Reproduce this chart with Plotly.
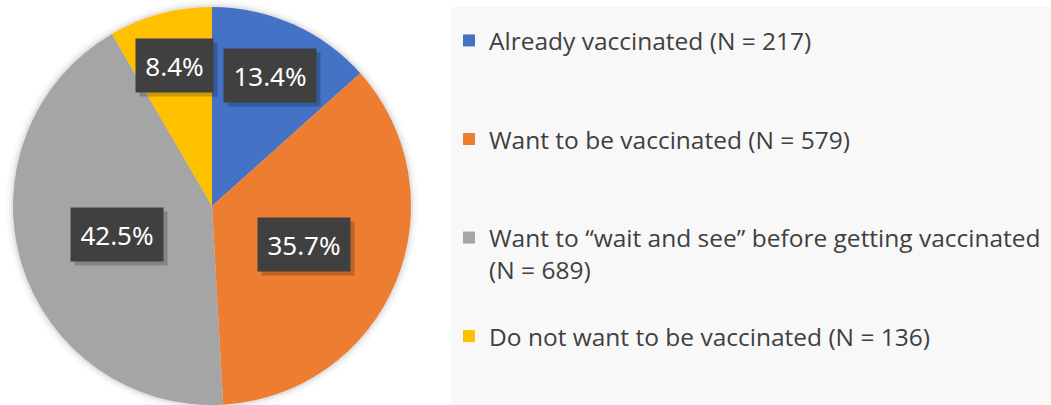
import math
import plotly.graph_objects as go

# ---- data ----
categories = [
    "Already vaccinated",
    "Want to be vaccinated",
    "Want to “wait and see” before getting vaccinated",
    "Do not want to be vaccinated",
]
counts = [217, 579, 689, 136]
colors = ["#4472C4", "#ED7D31", "#A5A5A5", "#FFC000"]
legend_breaks = [" ", " ", "<br>", " "]   # where "(N = …)" goes
label_radius = [0.72, 0.50, 0.50, 0.73]   # label distance as fraction of radius

# ---- layout constants ----
W, H = 1051, 405
PIE_CX, PIE_CY, PIE_R = 212, 206, 199     # pixel geometry of pie (top-down)
LEG_FS = 24.5

legend_names = []
for c, n, br in zip(categories, counts, legend_breaks):
    body = f"{c}{br}(N = {n})"
    extra_lines = 1 if br == "<br>" else 2
    legend_names.append(body + "<br> " * extra_lines)

total = sum(counts)

fig = go.Figure(
    go.Pie(
        labels=legend_names,
        values=counts,
        sort=False,
        direction="clockwise",
        rotation=0,
        textinfo="none",
        marker=dict(colors=colors, line=dict(width=0)),
        domain=dict(
            x=[(PIE_CX - PIE_R) / W, (PIE_CX + PIE_R) / W],
            y=[1 - (PIE_CY + PIE_R) / H, 1 - (PIE_CY - PIE_R) / H],
        ),
        showlegend=True,
    )
)

annotations = []
cum = 0.0
for i, n in enumerate(counts):
    frac = n / total
    mid = cum + frac / 2
    cum += frac
    theta = 2 * math.pi * mid
    px = PIE_CX + label_radius[i] * PIE_R * math.sin(theta)
    py = PIE_CY - label_radius[i] * PIE_R * math.cos(theta)
    txt = f"{frac * 100:.1f}%"
    box_w = 15 * len(txt) - 3
    common = dict(
        x=px / W, y=1 - py / H, xref="paper", yref="paper",
        xanchor="center", yanchor="middle",
        showarrow=False, borderpad=10, width=box_w, height=33,
    )
    # soft shadow
    annotations.append(dict(common, text=" ",
                            font=dict(family="Noto Sans", size=26, color="rgba(0,0,0,0)"),
                            bgcolor="rgba(0,0,0,0.20)", xshift=4, yshift=-4))
    annotations.append(dict(common, text=txt,
                            font=dict(family="Noto Sans", size=26, color="white"),
                            bgcolor="#404040"))

shapes = [
    dict(type="rect", xref="paper", yref="paper",
         x0=451 / W, x1=1, y0=0, y1=1 - 7 / H,
         fillcolor="#F8F8F8", line=dict(width=0), layer="below"),
]
# faint halo around the pie
for grow, alpha in [(7, 0.025), (4, 0.035), (2, 0.05)]:
    shapes.append(dict(
        type="circle", xref="paper", yref="paper",
        x0=(PIE_CX - PIE_R - grow) / W, x1=(PIE_CX + PIE_R + grow) / W,
        y0=1 - (PIE_CY + PIE_R + grow) / H, y1=1 - (PIE_CY - PIE_R - grow) / H,
        fillcolor=f"rgba(0,0,0,{alpha})", line=dict(width=0), layer="below",
    ))

fig.update_layout(
    width=W,
    height=H,
    margin=dict(l=0, r=0, t=0, b=0, autoexpand=False),
    paper_bgcolor="white",
    plot_bgcolor="white",
    shapes=shapes,
    annotations=annotations,
    legend=dict(
        x=449 / W, xanchor="left",
        y=1 - 18 / H, yanchor="top",
        bgcolor="rgba(0,0,0,0)",
        font=dict(family="Open Sans", size=LEG_FS, color="#404040"),
        valign="top",
        traceorder="normal",
    ),
)

fig.write_html(
    "out.html",
    config={"displayModeBar": False},
    post_script="document.body.style.margin='0';",
)
